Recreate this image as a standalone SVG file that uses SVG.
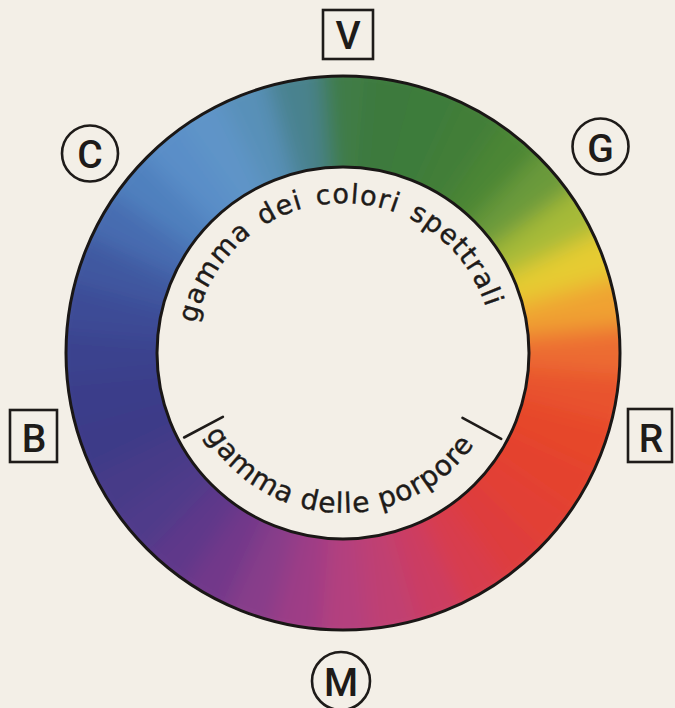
<svg xmlns="http://www.w3.org/2000/svg" xmlns:xlink="http://www.w3.org/1999/xlink" width="675" height="708" viewBox="0 0 675 708">
  <style>
    .lbl { font-family: Roboto, "DejaVu Sans", sans-serif; font-weight: 500; font-size: 39px; fill: #1e1b19; text-anchor: middle; }
    .frame { fill: none; stroke: #1e1b19; stroke-width: 2.6; }
    .arc { font-family: "DejaVu Sans", "Noto Sans", sans-serif; fill: #1e1b19; stroke: #1e1b19; stroke-width: 0.4; }
    .tick { stroke: #1e1b19; stroke-width: 2.6; stroke-linecap: round; }
  </style>
  <defs>
    <path id="w" d="M343 353 L314.3 54.4 L371.7 54.4 Z"/>
    <clipPath id="outerClip"><circle cx="343" cy="353" r="277"/></clipPath>
    <filter id="soft" x="-20%" y="-20%" width="140%" height="140%">
      <feGaussianBlur stdDeviation="11"/>
    </filter>
    <path id="topArc" d="M193 353 A150 150 0 0 1 493 353"/>
    <path id="botArc" d="M183 353 A160 160 0 0 0 503 353"/>
  </defs>
  <rect width="675" height="708" fill="#f3efe7"/>

  <g id="ring">
    <g clip-path="url(#outerClip)">
      <g filter="url(#soft)">
        <use href="#w" fill="#3f7c46" transform="rotate(0 343 353)"/>
        <use href="#w" fill="#3c7a3e" transform="rotate(10 343 353)"/>
        <use href="#w" fill="#3d7b3a" transform="rotate(20 343 353)"/>
        <use href="#w" fill="#427e38" transform="rotate(30 343 353)"/>
        <use href="#w" fill="#4c8636" transform="rotate(40 343 353)"/>
        <use href="#w" fill="#6a9a3a" transform="rotate(50 343 353)"/>
        <use href="#w" fill="#a6ba38" transform="rotate(60 343 353)"/>
        <use href="#w" fill="#e6cc32" transform="rotate(70 343 353)"/>
        <use href="#w" fill="#f0a232" transform="rotate(80 343 353)"/>
        <use href="#w" fill="#ec6c30" transform="rotate(90 343 353)"/>
        <use href="#w" fill="#e8522e" transform="rotate(100 343 353)"/>
        <use href="#w" fill="#e6462c" transform="rotate(110 343 353)"/>
        <use href="#w" fill="#e4422e" transform="rotate(120 343 353)"/>
        <use href="#w" fill="#e24034" transform="rotate(130 343 353)"/>
        <use href="#w" fill="#de3e3e" transform="rotate(140 343 353)"/>
        <use href="#w" fill="#d83e4e" transform="rotate(150 343 353)"/>
        <use href="#w" fill="#cc3e62" transform="rotate(160 343 353)"/>
        <use href="#w" fill="#c03f72" transform="rotate(170 343 353)"/>
        <use href="#w" fill="#b43f7e" transform="rotate(180 343 353)"/>
        <use href="#w" fill="#9e3e86" transform="rotate(190 343 353)"/>
        <use href="#w" fill="#883c8a" transform="rotate(200 343 353)"/>
        <use href="#w" fill="#72398a" transform="rotate(210 343 353)"/>
        <use href="#w" fill="#5e398a" transform="rotate(220 343 353)"/>
        <use href="#w" fill="#503a8a" transform="rotate(230 343 353)"/>
        <use href="#w" fill="#463a88" transform="rotate(240 343 353)"/>
        <use href="#w" fill="#3e3b88" transform="rotate(250 343 353)"/>
        <use href="#w" fill="#3b3e8a" transform="rotate(260 343 353)"/>
        <use href="#w" fill="#3b438e" transform="rotate(270 343 353)"/>
        <use href="#w" fill="#3c4b96" transform="rotate(280 343 353)"/>
        <use href="#w" fill="#3f58a0" transform="rotate(290 343 353)"/>
        <use href="#w" fill="#466cb0" transform="rotate(300 343 353)"/>
        <use href="#w" fill="#5080be" transform="rotate(310 343 353)"/>
        <use href="#w" fill="#5a8ec8" transform="rotate(320 343 353)"/>
        <use href="#w" fill="#5e94c8" transform="rotate(330 343 353)"/>
        <use href="#w" fill="#5890b8" transform="rotate(340 343 353)"/>
        <use href="#w" fill="#48828e" transform="rotate(350 343 353)"/>
      </g>
    </g>
    <circle cx="343" cy="353" r="277" fill="none" stroke="#1a1716" stroke-width="3"/>
    <circle cx="343" cy="353" r="186" fill="#f3efe7" stroke="#1a1716" stroke-width="3"/>
  </g>

  <g id="spectral-label">
    <text class="arc" font-size="27" letter-spacing="1.2" word-spacing="3" transform="rotate(-3 343 353)"><textPath href="#topArc" startOffset="50%" text-anchor="middle">gamma dei colori spettrali</textPath></text>
  </g>

  <g id="purple-label">
    <line class="tick" x1="222.9" y1="416.9" x2="184.1" y2="437.5"/>
    <line class="tick" x1="462.5" y1="417.9" x2="501.2" y2="438.9"/>
    <text class="arc" font-size="28" letter-spacing="1" transform="rotate(2 343 353)"><textPath href="#botArc" startOffset="50%" text-anchor="middle">gamma delle porpore</textPath></text>
  </g>

  <g id="node-V">
    <rect class="frame" x="323" y="10" width="50" height="49"/>
    <text class="lbl" x="348" y="49">V</text>
  </g>
  <g id="node-C">
    <circle class="frame" cx="90" cy="153.5" r="28"/>
    <text class="lbl" x="90" y="168">C</text>
  </g>
  <g id="node-G">
    <circle class="frame" cx="600.5" cy="146.5" r="28"/>
    <text class="lbl" x="600.5" y="162">G</text>
  </g>
  <g id="node-B">
    <rect class="frame" x="10" y="410" width="47" height="52"/>
    <text class="lbl" x="34" y="452" font-size="41">B</text>
  </g>
  <g id="node-R">
    <rect class="frame" x="628" y="409" width="44" height="53"/>
    <text class="lbl" x="651" y="452" font-size="41">R</text>
  </g>
  <g id="node-M">
    <circle class="frame" cx="341" cy="681" r="29"/>
    <text class="lbl" x="341" y="696" font-size="42">M</text>
  </g>
</svg>
